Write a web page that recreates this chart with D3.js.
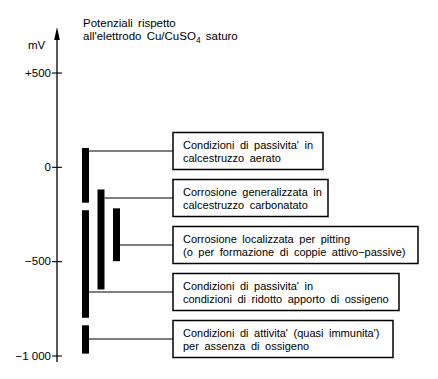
<!DOCTYPE html>
<html>
<head>
<meta charset="utf-8">
<script src="https://cdn.jsdelivr.net/npm/d3@7"></script>
<style>
  html, body { margin: 0; padding: 0; background: #fff; }
  svg { display: block; }
  text { font-family: "Liberation Sans", Arial, sans-serif; fill: #000; }
</style>
</head>
<body>
<svg id="chart" width="438" height="379"></svg>
<script>
// ---- data ----
const tickValues = [500, 0, -500, -1000];
const tickLabels = ["+500", "0", "\u2212500", "\u22121 000"];
const categories = [
  ["Condizioni di passivita' in", "calcestruzzo aerato"],
  ["Corrosione generalizzata in", "calcestruzzo carbonatato"],
  ["Corrosione localizzata per pitting", "(o per formazione di coppie attivo\u2212passive)"],
  ["Condizioni di passivita' in", "condizioni di ridotto apporto di ossigeno"],
  ["Condizioni di attivita' (quasi immunita')", "per assenza di ossigeno"]
];
const rangeTop    = [100, -120, -220, -230, -840];
const rangeBottom = [-190, -650, -500, -800, -990];
const column      = [0, 1, 2, 0, 0];
const unitLabel = "mV";
const titleLine1 = "Potenziali rispetto";

// ---- layout ----
const svg = d3.select("#chart");
const axisX = 57;
const y = d3.scaleLinear().domain([-1000, 500]).range([355.5, 72.5]);
const colX = d3.scaleLinear().domain([0, 1, 2]).range([82, 97.5, 113]);
const barW = 7;
const boxLeft = 173;
const boxWidths = [150, 155, 245, 226, 220];
const boxH = 37;
const boxCenter = d => 151 + d * 47;

// axis line with arrow
svg.append("line").attr("x1", axisX).attr("x2", axisX)
  .attr("y1", 362).attr("y2", 34).attr("stroke", "#000").attr("stroke-width", 1.3);
svg.append("path").attr("d", `M${axisX},27 L${axisX - 2.8},40 L${axisX + 2.8},40 Z`).attr("fill", "#000");

// ticks
const axis = d3.axisLeft(y).tickValues(tickValues)
  .tickFormat((d, i) => tickLabels[i]).tickSizeInner(5).tickSizeOuter(0).tickPadding(2);
const gA = svg.append("g").attr("transform", `translate(${axisX},0)`).call(axis);
gA.select(".domain").remove();
gA.selectAll(".tick line").attr("x1", -5).attr("x2", 5).attr("stroke-width", 1.1);
gA.selectAll(".tick text").attr("font-size", 11.5).attr("font-family", "Liberation Sans, Arial, sans-serif").attr("x", -6);

// unit
svg.append("text").attr("x", 28).attr("y", 49).attr("font-size", 11.5).text(unitLabel);

// title
const t = svg.append("text").attr("x", 83).attr("font-size", 11.5).attr("word-spacing", 2);
t.append("tspan").attr("x", 83).attr("y", 27).text(titleLine1);
const t2 = t.append("tspan").attr("x", 83).attr("y", 40);
t2.text("all'elettrodo Cu/CuSO");
t.append("tspan").attr("dy", 3).attr("font-size", 8.5).text("4");
t.append("tspan").attr("dy", -3).text(" saturo");

// bars
const idx = d3.range(categories.length);
svg.selectAll("rect.bar").data(idx).join("rect").attr("class", "bar")
  .attr("x", i => colX(column[i]))
  .attr("y", i => y(rangeTop[i]))
  .attr("width", barW)
  .attr("height", i => y(rangeBottom[i]) - y(rangeTop[i]))
  .attr("fill", "#000");

// connectors
svg.selectAll("line.conn").data(idx).join("line").attr("class", "conn")
  .attr("x1", i => colX(column[i]) + barW)
  .attr("x2", boxLeft)
  .attr("y1", i => boxCenter(i)).attr("y2", i => boxCenter(i))
  .attr("stroke", "#000").attr("stroke-width", 1.1);

// boxes
svg.selectAll("rect.box").data(idx).join("rect").attr("class", "box")
  .attr("x", boxLeft).attr("y", i => boxCenter(i) - boxH / 2)
  .attr("width", i => boxWidths[i]).attr("height", boxH)
  .attr("fill", "#fff").attr("stroke", "#000").attr("stroke-width", 1.5);

const labels = svg.selectAll("text.lab").data(idx).join("text").attr("class", "lab")
  .attr("font-size", 11).attr("word-spacing", 2.5);
labels.each(function(i) {
  const g = d3.select(this);
  categories[i].forEach((line, k) => {
    g.append("tspan").attr("x", boxLeft + 10)
      .attr("y", boxCenter(i) - 2 + k * 13)
      .text(line);
  });
});
</script>
</body>
</html>
